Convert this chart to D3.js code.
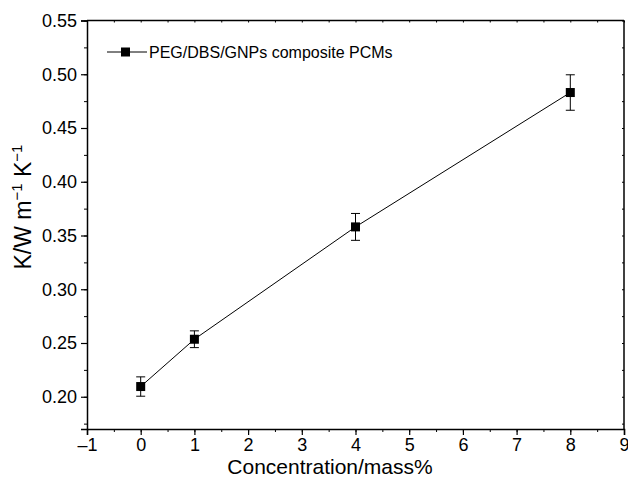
<!DOCTYPE html>
<html>
<head>
<meta charset="utf-8">
<script src="https://cdn.jsdelivr.net/npm/d3@7"></script>
<style>
  html, body { margin: 0; padding: 0; background: #fff; }
  svg { display: block; font-family: "Liberation Sans", Arial, sans-serif; }
</style>
</head>
<body>
<svg id="chart" width="628" height="477"></svg>
<script>
// Thermal conductivity of PEG/DBS/GNPs composite PCMs vs. GNP loading
const concentration = [0, 1, 4, 8];
const conductivity = [0.2095, 0.2535, 0.358, 0.483];
const errorHalf = [0.009, 0.0078, 0.0125, 0.0165];
const xTicks = [-1, 0, 1, 2, 3, 4, 5, 6, 7, 8, 9];
const yTicks = [0.20, 0.25, 0.30, 0.35, 0.40, 0.45, 0.50, 0.55];
const seriesName = "PEG/DBS/GNPs composite PCMs";

const W = 628, H = 477;
const margin = { top: 20.5, right: 4, bottom: 48, left: 87 };
const svg = d3.select("#chart");

const x = d3.scaleLinear().domain([-1, 9]).range([margin.left, W - margin.right]);
const y = d3.scaleLinear().domain([0.17, 0.55]).range([H - margin.bottom, margin.top]);

const fmtX = d => d < 0 ? "\u2013" + Math.abs(d) : String(d);
const xMinor = d3.range(-1, 9.001, 0.5);
const yMinor = d3.range(0.175, 0.5501, 0.025);

// minor ticks (no labels)
svg.append("g").attr("transform", `translate(0,${H - margin.bottom})`)
  .call(d3.axisBottom(x).tickValues(xMinor).tickSize(3).tickFormat(""))
  .call(g => g.select(".domain").remove());
svg.append("g").attr("transform", `translate(${margin.left},0)`)
  .call(d3.axisLeft(y).tickValues(yMinor).tickSize(3).tickFormat(""))
  .call(g => g.select(".domain").remove());
svg.append("g").attr("transform", `translate(0,${margin.top})`)
  .call(d3.axisTop(x).tickValues(xMinor).tickSize(-2).tickFormat(""))
  .call(g => g.select(".domain").remove());
svg.append("g").attr("transform", `translate(${W - margin.right},0)`)
  .call(d3.axisRight(y).tickValues(yMinor).tickSize(-2).tickFormat(""))
  .call(g => g.select(".domain").remove());

// major axes
const xAxis = svg.append("g").attr("transform", `translate(0,${H - margin.bottom})`)
  .call(d3.axisBottom(x).tickValues(xTicks).tickSize(6).tickPadding(3).tickFormat(fmtX));
const yAxis = svg.append("g").attr("transform", `translate(${margin.left},0)`)
  .call(d3.axisLeft(y).tickValues(yTicks).tickSize(6).tickPadding(4).tickFormat(d3.format(".2f")));
[xAxis, yAxis].forEach(g => {
  g.select(".domain").attr("stroke-width", 1.5);
  g.selectAll(".tick line").attr("stroke-width", 1.2);
  g.selectAll(".tick text").attr("font-size", 18).attr("fill", "#000");
});

// frame top and right
svg.append("line").attr("x1", margin.left).attr("x2", W - margin.right)
  .attr("y1", margin.top).attr("y2", margin.top).attr("stroke", "#000").attr("stroke-width", 1.5);
svg.append("line").attr("x1", W - margin.right).attr("x2", W - margin.right)
  .attr("y1", margin.top).attr("y2", H - margin.bottom).attr("stroke", "#000").attr("stroke-width", 1.5);

// axis titles
svg.append("text").attr("x", 330).attr("y", 474)
  .attr("text-anchor", "middle").attr("font-size", 21).text("Concentration/mass%");
const yt = svg.append("text").attr("transform", "translate(31,207) rotate(-90)")
  .attr("text-anchor", "middle").attr("font-size", 23);
yt.append("tspan").text("K/W m");
yt.append("tspan").attr("dy", -9).attr("font-size", 15).text("\u22121");
yt.append("tspan").attr("dy", 9).text(" K");
yt.append("tspan").attr("dy", -9).attr("font-size", 15).text("\u22121");

const pts = concentration.map((c, i) => ({ x: c, y: conductivity[i], e: errorHalf[i] }));

// connecting line
svg.append("path").datum(pts)
  .attr("fill", "none").attr("stroke", "#000").attr("stroke-width", 1)
  .attr("d", d3.line().x(d => x(d.x)).y(d => y(d.y)));

// error bars
const eb = svg.append("g").attr("stroke", "#000").attr("stroke-width", 1);
pts.forEach(d => {
  const cx = x(d.x), y0 = y(d.y - d.e), y1 = y(d.y + d.e);
  eb.append("line").attr("x1", cx).attr("x2", cx).attr("y1", y0).attr("y2", y1);
  eb.append("line").attr("x1", cx - 4.5).attr("x2", cx + 4.5).attr("y1", y0).attr("y2", y0);
  eb.append("line").attr("x1", cx - 4.5).attr("x2", cx + 4.5).attr("y1", y1).attr("y2", y1);
});

// markers
svg.append("g").selectAll("rect").data(pts).join("rect")
  .attr("x", d => x(d.x) - 4.5).attr("y", d => y(d.y) - 4.5)
  .attr("width", 9).attr("height", 9).attr("fill", "#000");

// legend
const lg = svg.append("g").attr("transform", "translate(107,52)");
lg.append("line").attr("x1", 0).attr("x2", 40).attr("stroke", "#000").attr("stroke-width", 1);
lg.append("rect").attr("x", 14).attr("y", -4.5).attr("width", 9).attr("height", 9).attr("fill", "#000");
lg.append("text").attr("x", 42).attr("y", 5.5).attr("font-size", 16).text(seriesName);
</script>
</body>
</html>
